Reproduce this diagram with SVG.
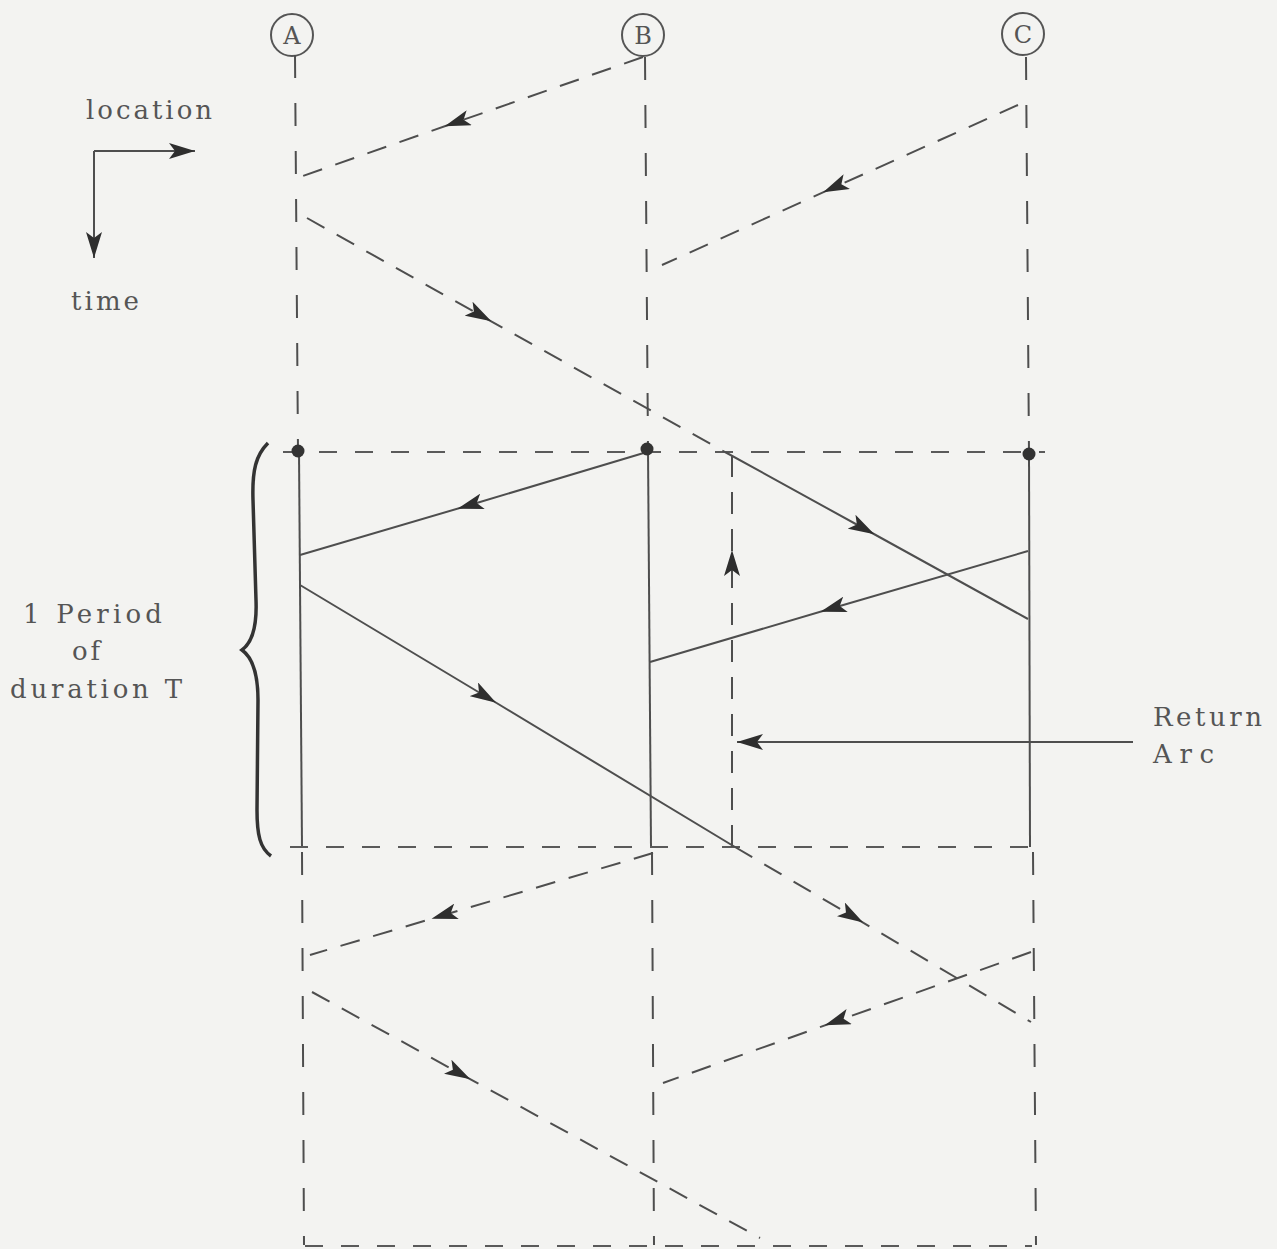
<svg xmlns="http://www.w3.org/2000/svg" width="1277" height="1249" viewBox="0 0 1277 1249">
<style>
.bg{fill:#f3f3f1}
.ln{stroke:#4e4e4e;stroke-width:2;fill:none}
.vd{stroke:#4e4e4e;stroke-width:2;fill:none;stroke-dasharray:23 25}
.hd{stroke:#5a5a5a;stroke-width:2;fill:none;stroke-dasharray:18 18}
.dd{stroke:#4e4e4e;stroke-width:2;fill:none;stroke-dasharray:20 14}
.rd{stroke:#4e4e4e;stroke-width:2;fill:none;stroke-dasharray:22 15}
.mid{marker-mid:url(#arr)}
.end{marker-end:url(#tip)}
.dot{fill:#333}
.st{fill:none;stroke:#555;stroke-width:2}
.t{font-family:"DejaVu Serif","Liberation Serif",serif;font-size:26px;fill:#555}
.lt{font-family:"DejaVu Serif","Liberation Serif",serif;font-size:24px;fill:#555;text-anchor:middle}
</style>
<defs>
<marker id="arr" viewBox="0 0 26 16" refX="13" refY="8" markerWidth="26" markerHeight="16" markerUnits="userSpaceOnUse" orient="auto">
<path d="M0,0 L26,8 L0,16 L6,8 Z" fill="#2e2e2e"/>
</marker>
<marker id="tip" viewBox="0 0 26 16" refX="26" refY="8" markerWidth="26" markerHeight="16" markerUnits="userSpaceOnUse" orient="auto">
<path d="M0,0 L26,8 L0,16 L6,8 Z" fill="#2e2e2e"/>
</marker>
</defs>
<rect class="bg" x="0" y="0" width="1277" height="1249"/>

<g id="node-A">
<circle class="st" cx="292" cy="35" r="21"/>
<text class="lt" x="292" y="44">A</text>
</g>
<g id="node-B">
<circle class="st" cx="643" cy="35" r="21"/>
<text class="lt" x="643" y="44">B</text>
</g>
<g id="node-C">
<circle class="st" cx="1023" cy="34" r="21"/>
<text class="lt" x="1023" y="43">C</text>
</g>

<g id="legend-axes">
<path class="ln" d="M94,151 L195,151" marker-end="url(#tip)"/>
<path class="ln" d="M94,151 L94,258" marker-end="url(#tip)"/>
<text class="t" x="86" y="119" textLength="126">location</text>
<text class="t" x="71" y="310" textLength="68">time</text>
</g>

<g id="period-label">
<path d="M268,443 C256,455 252,470 253,500 L256,600 C257,625 253,642 242,650 C253,658 258,675 258,700 L257,810 C257,835 260,848 271,856" fill="none" stroke="#333" stroke-width="3.5"/>
<text class="t" x="23" y="623" textLength="139">1 Period</text>
<text class="t" x="72" y="660" textLength="28">of</text>
<text class="t" x="10" y="698" textLength="172">duration T</text>
</g>

<g id="return-arc-label">
<text class="t" x="1153" y="726" textLength="109">Return</text>
<text class="t" x="1153" y="763" textLength="61">Arc</text>
</g>

<g id="connectors">
<line class="vd" x1="295" y1="55" x2="298" y2="452"/>
<line class="vd" x1="645" y1="57" x2="648" y2="449"/>
<line class="vd" x1="1026" y1="57" x2="1029" y2="454"/>
<line class="ln" x1="299" y1="452" x2="302" y2="847"/>
<line class="ln" x1="648" y1="449" x2="651" y2="847"/>
<line class="ln" x1="1029" y1="454" x2="1030" y2="847"/>
<line class="vd" x1="302" y1="852" x2="304" y2="1245"/>
<line class="vd" x1="652" y1="852" x2="654" y2="1245"/>
<line class="vd" x1="1033" y1="852" x2="1036" y2="1245"/>
<line class="hd" x1="283" y1="452" x2="1045" y2="452"/>
<line class="hd" x1="290" y1="847" x2="1043" y2="847"/>
<line class="hd" x1="305" y1="1246" x2="1032" y2="1246"/>
<path class="dd mid" d="M643,57 L457,122 L300,177"/>
<path class="dd mid" d="M1018,105 L835,187 L662,265"/>
<path class="dd mid" d="M307,218 L480,315 L725,452"/>
<path class="ln mid" d="M725,452 L863,528 L1028,619"/>
<path class="ln mid" d="M647,452 L470,505 L300,555"/>
<path class="ln mid" d="M300,585 L485,696 L735,847"/>
<path class="ln mid" d="M1028,551 L833,608 L650,662"/>
<path class="rd mid" d="M732,847 L732,563 L732,452"/>
<path class="ln end" d="M1133,742 L737,742"/>
<path class="dd mid" d="M653,853 L444,915 L310,955"/>
<path class="dd mid" d="M735,847 L852,916 L1031,1022"/>
<path class="dd mid" d="M1031,952 L837,1021 L663,1083"/>
<path class="dd mid" d="M312,992 L459,1073 L760,1238"/>
</g>

<g id="junctions">
<circle class="dot" cx="298" cy="451" r="6.5"/>
<circle class="dot" cx="647" cy="449" r="6.5"/>
<circle class="dot" cx="1029" cy="454" r="6.5"/>
</g>
</svg>
